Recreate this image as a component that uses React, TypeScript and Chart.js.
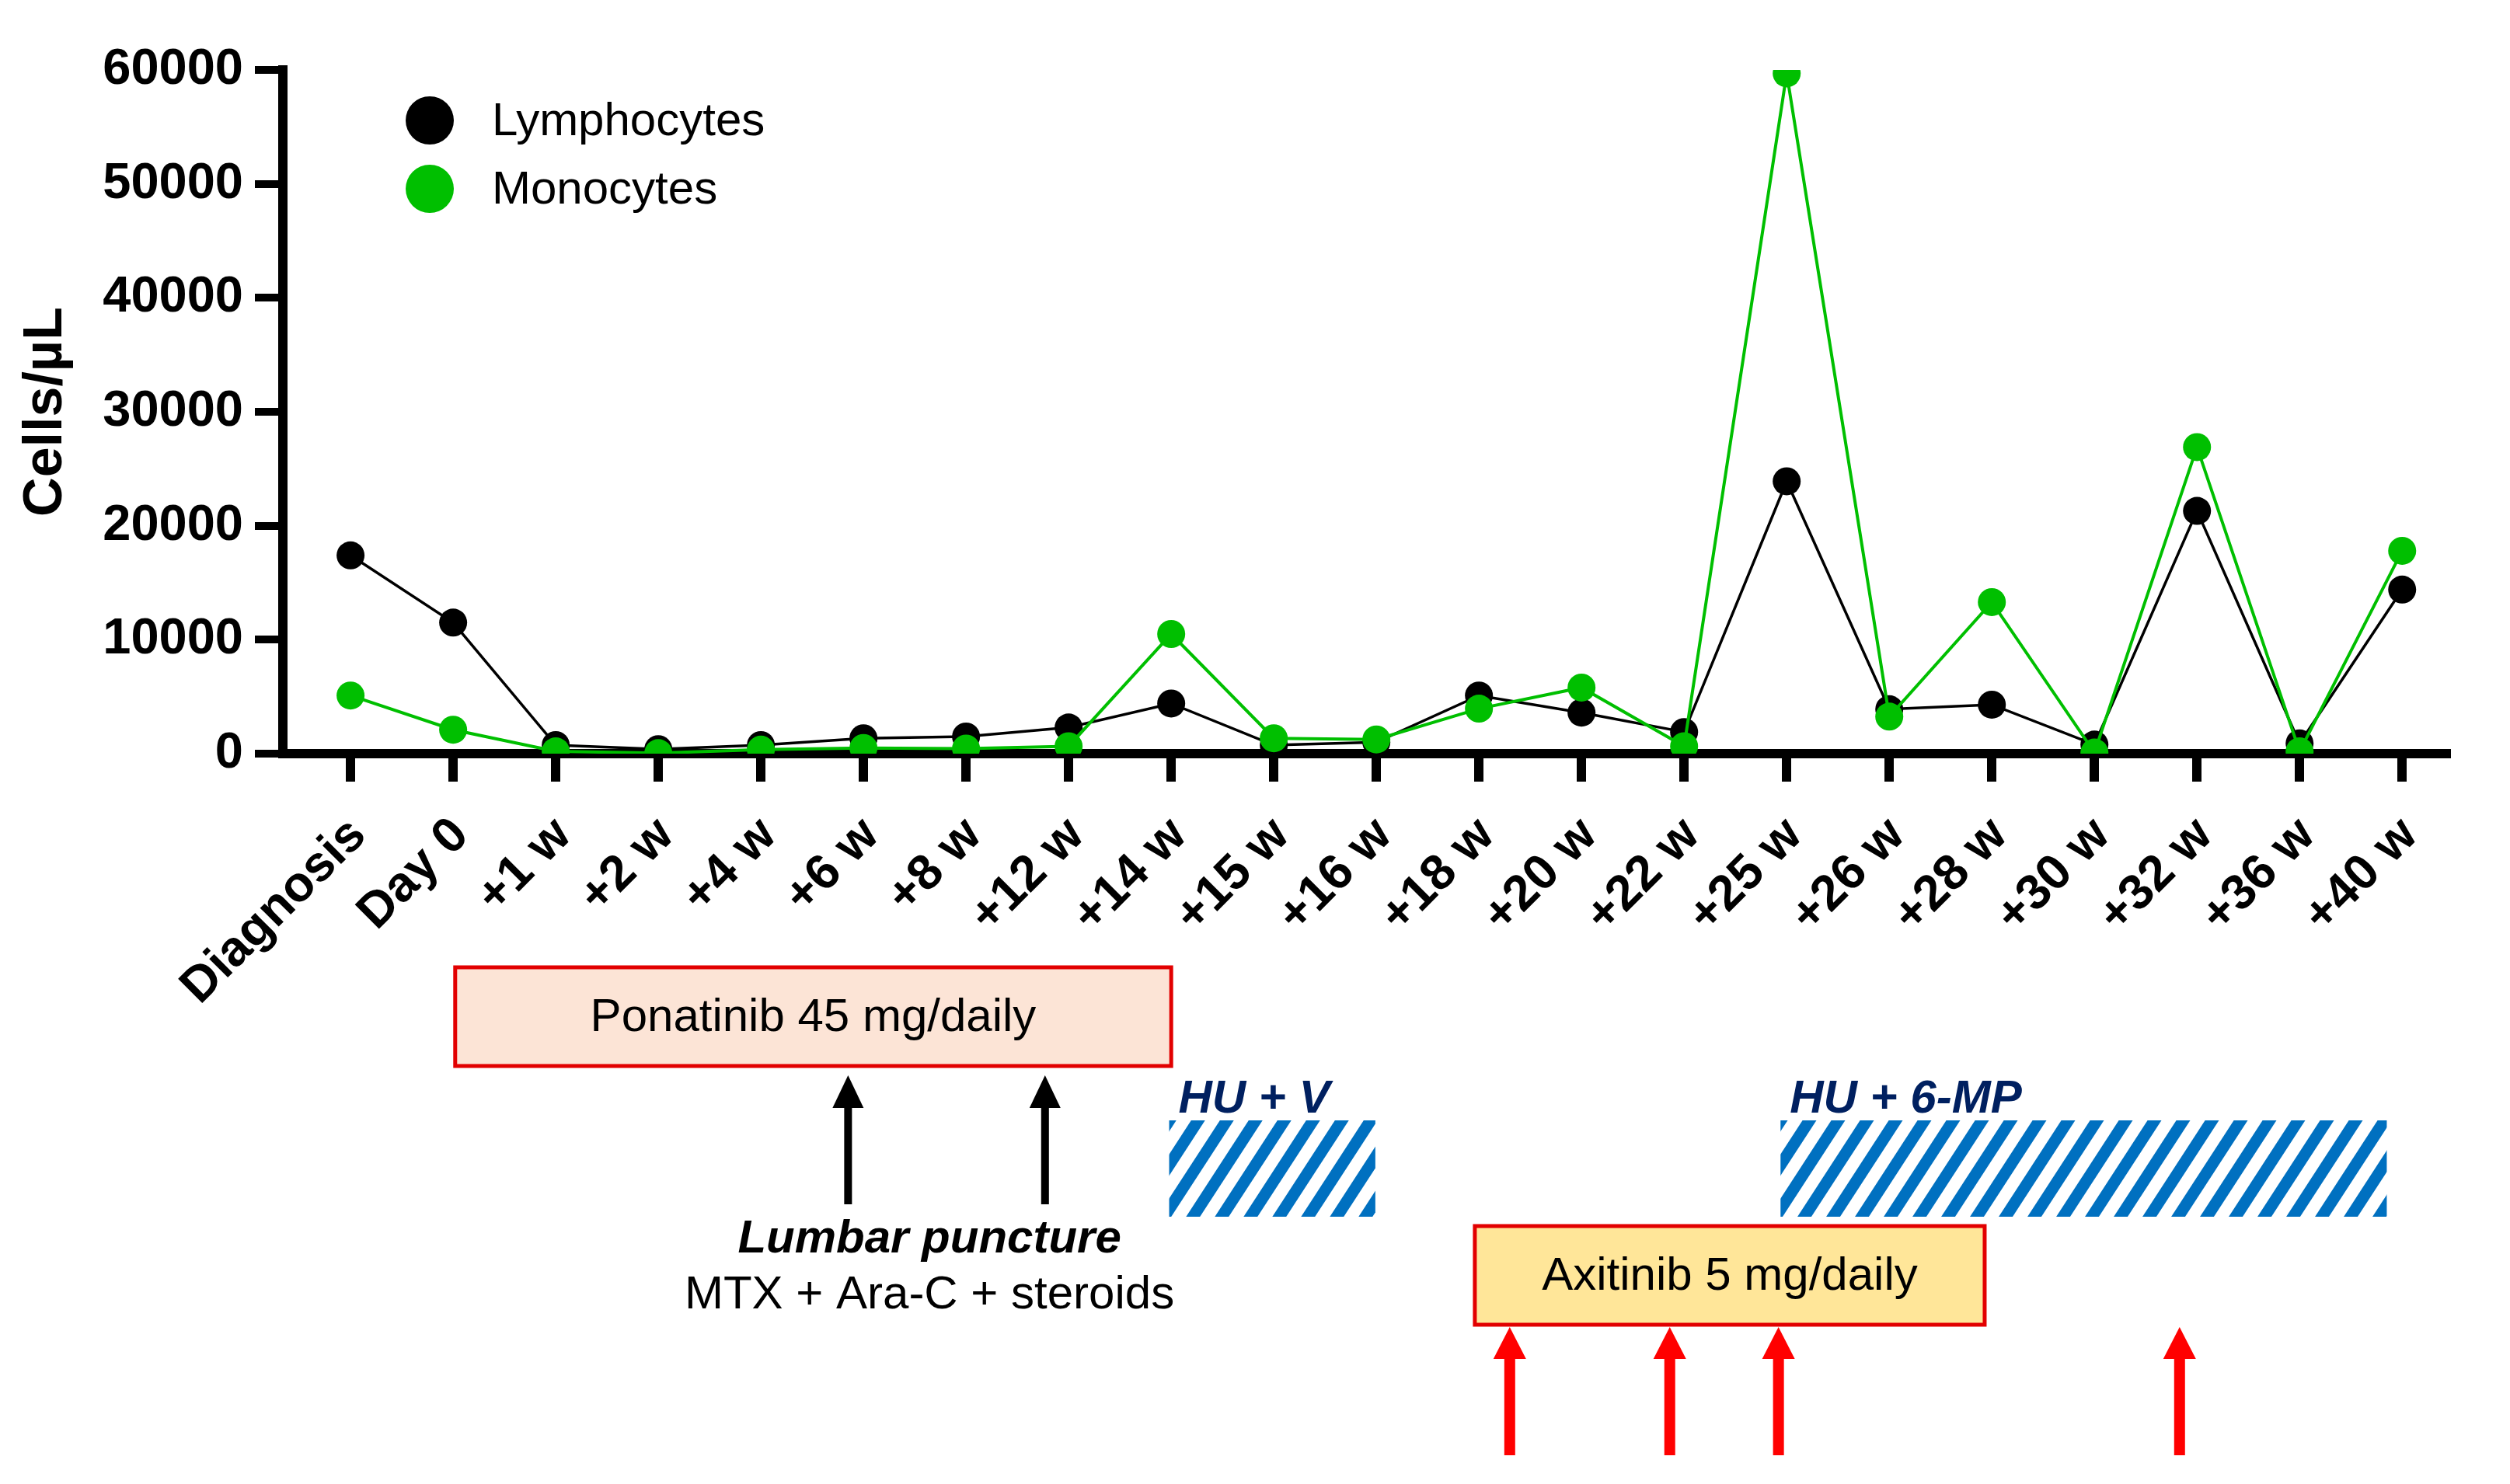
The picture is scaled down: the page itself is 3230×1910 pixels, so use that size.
import React, { useEffect, useRef } from 'react';
import { Chart, registerables } from 'chart.js';

Chart.register(...registerables);

// ---------- data ----------
const categories = ['Diagnosis', 'Day 0', '+1 w', '+2 w', '+4 w', '+6 w', '+8 w', '+12 w', '+14 w', '+15 w', '+16 w', '+18 w', '+20 w', '+22 w', '+25 w', '+26 w', '+28 w', '+30 w', '+32 w', '+36 w', '+40 w'];
const lymphocytes = [17400, 11500, 750, 400, 750, 1350, 1500, 2300, 4400, 750, 1000, 5100, 3600, 1900, 23900, 3900, 4300, 800, 21300, 900, 14400];
const monocytes = [5100, 2100, 200, 50, 350, 500, 450, 650, 10500, 1350, 1250, 3950, 5800, 650, 59700, 3250, 13300, 100, 26900, 200, 17800];
const yTicks = [0, 10000, 20000, 30000, 40000, 50000, 60000];
const seriesNames = ['Lymphocytes', 'Monocytes'];

// treatment boxes, spans in x-axis (category index) units
const boxLabels = ['Ponatinib 45 mg/daily', 'Axitinib 5 mg/daily'];
const boxFrom = [1.02, 10.96];
const boxTo = [8.0, 15.93];
const boxFills = ['#FCE4D6', '#FFE699'];
// hatched therapy spans
const hatchLabels = ['HU + V', 'HU + 6-MP'];
const hatchFrom = [7.98, 13.94];
const hatchTo = [9.99, 19.85];
// arrows
const lumbarArrows = [4.85, 6.77];
const axitinibArrows = [11.3, 12.86, 13.92, 17.83];

const FONT = '"Liberation Sans", Arial, Helvetica, sans-serif';
const GREEN = '#00BF00';

export default function App() {
  const ref = useRef<HTMLCanvasElement | null>(null);

  useEffect(() => {
    document.body.style.margin = '0';
    const canvas = ref.current;
    if (!canvas) return;

    const overlay = {
      id: 'overlay',
      afterDraw(chart: any) {
        const ctx = chart.ctx as CanvasRenderingContext2D;
        const xs = chart.scales.x;
        const px = (v: number) => xs.getPixelForValue(v);
        ctx.save();

        // legend
        const legendColors = ['#000000', GREEN];
        const legendY = [155, 243];
        seriesNames.forEach((name, i) => {
          ctx.beginPath();
          ctx.fillStyle = legendColors[i];
          ctx.arc(553, legendY[i], 31, 0, Math.PI * 2);
          ctx.fill();
          ctx.fillStyle = '#000';
          ctx.font = `60px ${FONT}`;
          ctx.textAlign = 'left';
          ctx.textBaseline = 'middle';
          ctx.fillText(name, 633, legendY[i] + 2);
        });

        // treatment boxes
        const boxTop = [1245, 1578];
        const boxBottom = [1372, 1705];
        boxLabels.forEach((label, i) => {
          const x0 = px(boxFrom[i]);
          const x1 = px(boxTo[i]);
          ctx.fillStyle = boxFills[i];
          ctx.fillRect(x0, boxTop[i], x1 - x0, boxBottom[i] - boxTop[i]);
          ctx.strokeStyle = '#E20000';
          ctx.lineWidth = 5;
          ctx.strokeRect(x0, boxTop[i], x1 - x0, boxBottom[i] - boxTop[i]);
          ctx.fillStyle = '#000';
          ctx.font = `60px ${FONT}`;
          ctx.textAlign = 'center';
          ctx.textBaseline = 'middle';
          ctx.fillText(label, (x0 + x1) / 2, (boxTop[i] + boxBottom[i]) / 2 + 2);
        });

        // hatched spans
        const hTop = 1442;
        const hBottom = 1566;
        hatchLabels.forEach((label, i) => {
          const x0 = px(hatchFrom[i]);
          const x1 = px(hatchTo[i]);
          ctx.save();
          ctx.beginPath();
          ctx.rect(x0, hTop, x1 - x0, hBottom - hTop);
          ctx.clip();
          ctx.strokeStyle = '#0070C0';
          ctx.lineWidth = 15;
          const h = hBottom - hTop;
          const dx = h / Math.tan((57 * Math.PI) / 180);
          for (let x = x0 - dx - 40; x < x1 + 40; x += 37) {
            ctx.beginPath();
            ctx.moveTo(x, hBottom + 5);
            ctx.lineTo(x + dx + (5 * dx) / h * 2, hTop - 5);
            ctx.stroke();
          }
          ctx.restore();
          ctx.fillStyle = '#002060';
          ctx.font = `italic bold 60px ${FONT}`;
          ctx.textAlign = 'left';
          ctx.textBaseline = 'alphabetic';
          ctx.fillText(label, x0 + 12, 1432);
        });

        // arrows
        const drawArrow = (x: number, tip: number, bottom: number, shaft: number, headW: number, headH: number, color: string) => {
          ctx.fillStyle = color;
          ctx.fillRect(x - shaft / 2, tip + headH - 2, shaft, bottom - tip - headH + 2);
          ctx.beginPath();
          ctx.moveTo(x, tip);
          ctx.lineTo(x + headW / 2, tip + headH);
          ctx.lineTo(x - headW / 2, tip + headH);
          ctx.closePath();
          ctx.fill();
        };
        lumbarArrows.forEach((v) => drawArrow(px(v), 1384, 1550, 10, 40, 42, '#000'));
        axitinibArrows.forEach((v) => drawArrow(px(v), 1708, 1873, 14, 42, 41, '#FF0000'));

        // lumbar puncture text
        const lpCenter = (px(lumbarArrows[0]) + px(lumbarArrows[1])) / 2 - 22;
        ctx.fillStyle = '#000';
        ctx.textAlign = 'center';
        ctx.textBaseline = 'alphabetic';
        ctx.font = `italic bold 60px ${FONT}`;
        ctx.fillText('Lumbar puncture', lpCenter, 1612);
        ctx.font = `60px ${FONT}`;
        ctx.fillText('MTX + Ara-C + steroids', lpCenter, 1684);

        ctx.restore();
      },
    };

    const chart = new Chart(canvas, {
      type: 'line',
      data: {
        datasets: [
          {
            label: seriesNames[0],
            data: lymphocytes.map((v, i) => ({ x: i, y: v })),
            borderColor: '#000',
            backgroundColor: '#000',
            borderWidth: 3.5,
            pointRadius: 18,
            pointBorderWidth: 0,
            pointBackgroundColor: '#000',
            tension: 0,
            order: 2,
          },
          {
            label: seriesNames[1],
            data: monocytes.map((v, i) => ({ x: i, y: v })),
            borderColor: GREEN,
            backgroundColor: GREEN,
            borderWidth: 4,
            pointRadius: 18,
            pointBorderWidth: 0,
            pointBackgroundColor: GREEN,
            tension: 0,
            order: 1,
          },
        ],
      },
      options: {
        responsive: false,
        animation: false,
        devicePixelRatio: 1,
        layout: { padding: { top: 90, right: 82, left: 0, bottom: 0 } },
        plugins: { legend: { display: false }, tooltip: { enabled: false } },
        scales: {
          x: {
            type: 'linear',
            min: -0.66,
            max: 20.43,
            afterBuildTicks: (s: any) => {
              s.ticks = categories.map((_, i) => ({ value: i }));
            },
            afterFit: (s: any) => {
              s.height = 1910 - 970;
            },
            ticks: {
              autoSkip: false,
              minRotation: 45,
              maxRotation: 45,
              padding: 32,
              labelOffset: 10,
              color: '#000',
              font: { family: FONT, size: 64, weight: 'bold' },
              callback: (v: any) => categories[v as number] ?? '',
            },
            grid: {
              drawOnChartArea: false,
              drawTicks: true,
              tickLength: 36,
              tickWidth: 12,
              tickColor: '#000',
              lineWidth: 12,
              color: '#000',
            },
            border: { display: true, color: '#000', width: 12 },
          },
          y: {
            type: 'linear',
            min: 0,
            max: 60000,
            afterBuildTicks: (s: any) => {
              s.ticks = yTicks.map((v) => ({ value: v }));
            },
            afterFit: (s: any) => {
              s.width = 364;
            },
            ticks: {
              padding: 15,
              color: '#000',
              font: { family: FONT, size: 65, weight: 'bold' },
              callback: (v: any) => String(v),
            },
            grid: {
              drawOnChartArea: false,
              drawTicks: true,
              tickLength: 36,
              tickWidth: 10,
              tickColor: '#000',
              lineWidth: 10,
              color: '#000',
            },
            border: { display: true, color: '#000', width: 12 },
            title: {
              display: true,
              text: 'Cells/µL',
              color: '#000',
              font: { family: FONT, size: 70, weight: 'bold' },
              padding: { top: 18, bottom: 0 },
            },
          },
        },
      },
      plugins: [overlay],
    } as any);

    return () => chart.destroy();
  }, []);

  return <canvas ref={ref} width={3230} height={1910} style={{ display: 'block', width: 3230, height: 1910 }} />;
}
